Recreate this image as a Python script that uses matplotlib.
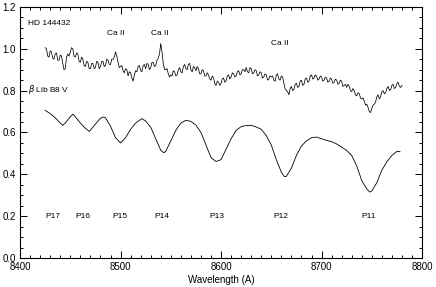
import numpy as np
import matplotlib
matplotlib.use("Agg")
import matplotlib.pyplot as plt
from matplotlib.ticker import MultipleLocator

# HD 144432 spectrum: samples every 2.5 A from 8425 to 8780 ...
hd_start, hd_step = 8425.0, 2.5
hd_flux = [
    1.005, 0.965, 0.99, 0.955, 0.975, 0.945, 0.97, 0.93, 0.905, 0.975,
    0.985, 1.0, 0.96, 0.975, 0.935, 0.95, 0.915, 0.935, 0.905, 0.93,
    0.91, 0.935, 0.915, 0.94, 0.92, 0.945, 0.925, 0.95, 0.985, 0.935,
    0.915, 0.895, 0.905, 0.87, 0.885, 0.845, 0.895, 0.915, 0.895, 0.92,
    0.905, 0.925, 0.91, 0.935, 0.92, 0.955, 1.025, 0.93, 0.9, 0.88,
    0.875, 0.895, 0.87, 0.9, 0.89, 0.915, 0.905, 0.925, 0.9, 0.915,
    0.895, 0.905, 0.88, 0.895, 0.87, 0.875, 0.85, 0.86, 0.825, 0.84,
    0.835, 0.86, 0.845, 0.875, 0.865, 0.88, 0.87, 0.895, 0.88, 0.9,
    0.91, 0.885, 0.905, 0.885, 0.895, 0.875, 0.885, 0.865, 0.875, 0.855,
    0.865, 0.85, 0.875, 0.855, 0.87, 0.835, 0.80, 0.78, 0.82, 0.805,
    0.835, 0.82, 0.85, 0.83, 0.86, 0.845, 0.875, 0.86, 0.87, 0.855,
    0.865, 0.85, 0.86, 0.845, 0.855, 0.84, 0.85, 0.835, 0.845, 0.825,
    0.815, 0.82, 0.795, 0.8, 0.775, 0.785, 0.76, 0.75, 0.735, 0.70,
    0.715, 0.735, 0.77, 0.76, 0.795, 0.785, 0.81, 0.8, 0.825, 0.81,
    0.835, 0.82, 0.825,
]
# ... and the samples half-way between them
hd_flux_mid = [
    1.0, 0.96, 0.985, 0.95, 0.98, 0.945, 0.965, 0.9, 0.96, 0.965,
    1.005, 0.965, 0.98, 0.94, 0.96, 0.92, 0.94, 0.905, 0.93, 0.905,
    0.94, 0.905, 0.94, 0.915, 0.95, 0.925, 0.95, 0.96, 0.965, 0.91,
    0.92, 0.885, 0.9, 0.89, 0.86, 0.875, 0.89, 0.92, 0.89, 0.925,
    0.93, 0.9, 0.935, 0.915, 0.945, 0.975, 0.985, 0.9, 0.905, 0.865,
    0.87, 0.89, 0.875, 0.91, 0.885, 0.925, 0.9, 0.93, 0.89, 0.91,
    0.915, 0.88, 0.9, 0.87, 0.885, 0.855, 0.87, 0.835, 0.845, 0.825,
    0.855, 0.84, 0.87, 0.855, 0.885, 0.865, 0.89, 0.875, 0.9, 0.89,
    0.89, 0.91, 0.88, 0.9, 0.87, 0.89, 0.86, 0.88, 0.85, 0.87,
    0.87, 0.845, 0.88, 0.85, 0.865, 0.81, 0.795, 0.81, 0.8, 0.83,
    0.815, 0.845, 0.825, 0.855, 0.84, 0.87, 0.855, 0.875, 0.85, 0.87,
    0.845, 0.865, 0.84, 0.86, 0.835, 0.855, 0.83, 0.85, 0.82, 0.83,
    0.83, 0.8, 0.81, 0.78, 0.79, 0.765, 0.765, 0.73, 0.72, 0.695,
    0.73, 0.745, 0.78, 0.77, 0.8, 0.79, 0.82, 0.805, 0.83, 0.815,
    0.84, 0.815,
]

# beta Lib B8 V spectrum
blib_wl = [8425, 8430, 8435, 8440, 8442.5, 8445, 8450, 8452.5, 8455, 8460,
           8465, 8469, 8475, 8480, 8483, 8485, 8490, 8495, 8500, 8505,
           8510, 8515, 8520, 8521, 8525, 8530, 8535, 8540, 8543, 8545,
           8550, 8555, 8560, 8565, 8570, 8575, 8580, 8585, 8590, 8595,
           8600, 8605, 8610, 8615, 8620, 8625, 8630, 8635, 8640, 8645,
           8650, 8655, 8660, 8663, 8665, 8670, 8675, 8680, 8685, 8690,
           8695, 8700, 8705, 8710, 8715, 8720, 8725, 8730, 8735, 8740,
           8745, 8748, 8750, 8755, 8760, 8765, 8770, 8775, 8778]
blib_flux = [0.706, 0.69, 0.67, 0.645, 0.634, 0.645, 0.675, 0.687, 0.675, 0.645,
             0.62, 0.605, 0.64, 0.668, 0.674, 0.67, 0.63, 0.575, 0.55, 0.575,
             0.615, 0.645, 0.662, 0.666, 0.655, 0.625, 0.57, 0.515, 0.503, 0.51,
             0.56, 0.61, 0.645, 0.658, 0.653, 0.635, 0.60, 0.54, 0.48, 0.461,
             0.47, 0.52, 0.57, 0.61, 0.628, 0.633, 0.634, 0.626, 0.615, 0.585,
             0.54, 0.47, 0.41, 0.389, 0.39, 0.43, 0.49, 0.535, 0.56, 0.575,
             0.578, 0.57, 0.562, 0.556, 0.545, 0.53, 0.514, 0.49, 0.44, 0.37,
             0.33, 0.315, 0.32, 0.36, 0.42, 0.46, 0.49, 0.51, 0.509]

paschen_labels = ["P17", "P16", "P15", "P14", "P13", "P12", "P11"]
paschen_x = [8433, 8463, 8499, 8541, 8596, 8660, 8747]
paschen_y = 0.2

ca_labels = ["Ca II", "Ca II", "Ca II"]
ca_x = [8495, 8539, 8658]
ca_y = [1.075, 1.075, 1.027]

xticks = [8400, 8500, 8600, 8700, 8800]
yticks = [0.0, 0.2, 0.4, 0.6, 0.8, 1.0, 1.2]

plt.rcParams['font.family'] = ['Liberation Sans', 'DejaVu Sans']

fig = plt.figure(figsize=(4.36, 2.87), dpi=100)
ax = fig.add_axes([0.046, 0.101, 0.922, 0.875])

# interleave the main and half-way samples
n = len(hd_flux)
hd_all = np.empty(2 * n - 1)
hd_all[0::2] = hd_flux
hd_all[1::2] = hd_flux_mid
hd_wl = hd_start + 0.5 * hd_step * np.arange(len(hd_all))

ax.plot(hd_wl, hd_all, color='black', lw=0.55)
ax.plot(blib_wl, blib_flux, color='black', lw=0.6)

for lab, x in zip(paschen_labels, paschen_x):
    ax.text(x, paschen_y, lab, ha='center', va='center', fontsize=6)
for lab, x, y in zip(ca_labels, ca_x, ca_y):
    ax.text(x, y, lab, ha='center', va='center', fontsize=6)
ax.text(8408, 1.123, "HD 144432", ha='left', va='center', fontsize=6)
ax.text(8408, 0.807, r"$\beta$ Lib B8 V", ha='left', va='center', fontsize=6)

ax.set_xlim(8400, 8800)
ax.set_ylim(0.0, 1.2)
ax.set_xticks(xticks)
ax.set_yticks(yticks)
ax.set_yticklabels([f"{v:.1f}" for v in yticks])
ax.xaxis.set_minor_locator(MultipleLocator(10))
ax.yaxis.set_minor_locator(MultipleLocator(0.05))
ax.tick_params(which='both', direction='in', top=True, right=True,
               labelsize=7, width=0.7, pad=3)
ax.tick_params(which='major', length=5)
ax.tick_params(which='minor', length=2.5)
for s in ax.spines.values():
    s.set_linewidth(0.8)
ax.set_xlabel("Wavelength (A)", fontsize=7, labelpad=2)

fig.savefig("out.png", dpi=100)
